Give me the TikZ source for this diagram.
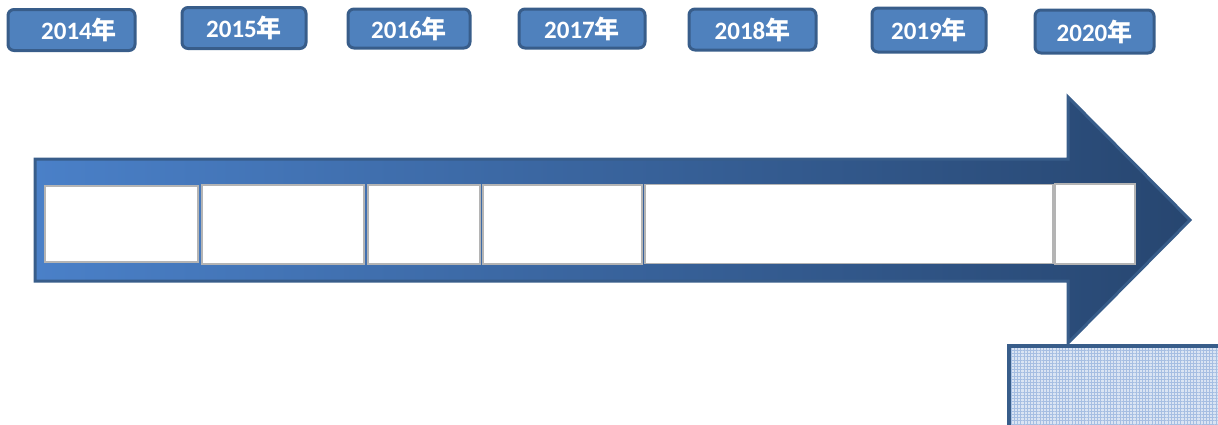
\documentclass[tikz,border=0pt]{standalone}
\usepackage{fontspec}
\setmainfont{Carlito}
\newfontfamily\cjk{Noto Sans CJK SC Bold}
\usetikzlibrary{patterns.meta}
\definecolor{yearfill}{HTML}{4F81BD}
\definecolor{yeardraw}{HTML}{385D8A}
\definecolor{arrowleft}{HTML}{4A80C8}
\definecolor{arrowright}{HTML}{274670}
\definecolor{slotdraw}{HTML}{B4B4B4}
\definecolor{gridfill}{HTML}{DAE4F3}
\definecolor{gridline}{HTML}{A6BEE2}
\newcommand{\yr}[1]{\fontsize{12.5}{14}\selectfont\bfseries #1{\cjk 年}}
\tikzstyle{year}=[rectangle,draw=yeardraw,fill=yearfill,line width=1.5pt,rounded corners=3pt,text=white,inner sep=0pt]
\tikzstyle{slot}=[rectangle,draw=slotdraw,fill=white,line width=0.8pt,inner sep=0pt]

\begin{document}
\begin{tikzpicture}[x=0.5pt,y=-0.5pt]
	\useasboundingbox (0,0) rectangle (1218,424);
	% year labels
	\node[year, minimum width=63.5pt, minimum height=20.5pt] (y2014) at (71.5, 30) {\hspace{7.5pt}\yr{2014}};
	\node[year, minimum width=62pt, minimum height=20.5pt] (y2015) at (244, 28) {\yr{2015}};
	\node[year, minimum width=61pt, minimum height=19.5pt] (y2016) at (409, 28.5) {\yr{2016}};
	\node[year, minimum width=63pt, minimum height=19.5pt] (y2017) at (582, 28.5) {\yr{2017}};
	\node[year, minimum width=63.5pt, minimum height=20.5pt] (y2018) at (752.5, 29.5) {\yr{2018}};
	\node[year, minimum width=57pt, minimum height=22pt] (y2019) at (929, 30) {\yr{2019}};
	\node[year, minimum width=59.5pt, minimum height=21.5pt] (y2020) at (1094.5, 31.5) {\yr{2020}};
	
	% arrow
	\draw[draw=yeardraw, line width=1.5pt, left color=arrowleft, right color=arrowright, line join=miter]
		(35,159) -- (1068,159) -- (1068,97) -- (1190,220) -- (1068,343) -- (1068,281) -- (35,281) -- cycle;
	
	% slots
	\node[slot, minimum width=76.5pt, minimum height=38pt] (s1) at (121.5, 224) {};
	\node[slot, minimum width=81pt, minimum height=39.5pt] (s2) at (283, 224.5) {};
	\node[slot, minimum width=56pt, minimum height=39.5pt] (s3) at (424, 224.5) {};
	\node[slot, minimum width=79.5pt, minimum height=39.5pt] (s4) at (562.5, 224.5) {};
	\node[slot, minimum width=204pt, minimum height=39.5pt] (s5) at (849, 224) {};
	\node[slot, minimum width=40pt, minimum height=40pt] (s6) at (1095, 224) {};
	
	% note box
	\fill[gridfill] (1009,346) rectangle (1230,430);
	\fill[pattern={Lines[angle=0,distance=1.6pt,line width=0.4pt]}, pattern color=gridline] (1009,346) rectangle (1230,430);
	\fill[pattern={Lines[angle=90,distance=1.6pt,line width=0.4pt]}, pattern color=gridline] (1009,346) rectangle (1230,430);
	\draw[draw=yeardraw, line width=1.8pt] (1230,346) -- (1009,346) -- (1009,430);
\end{tikzpicture}
\end{document}
